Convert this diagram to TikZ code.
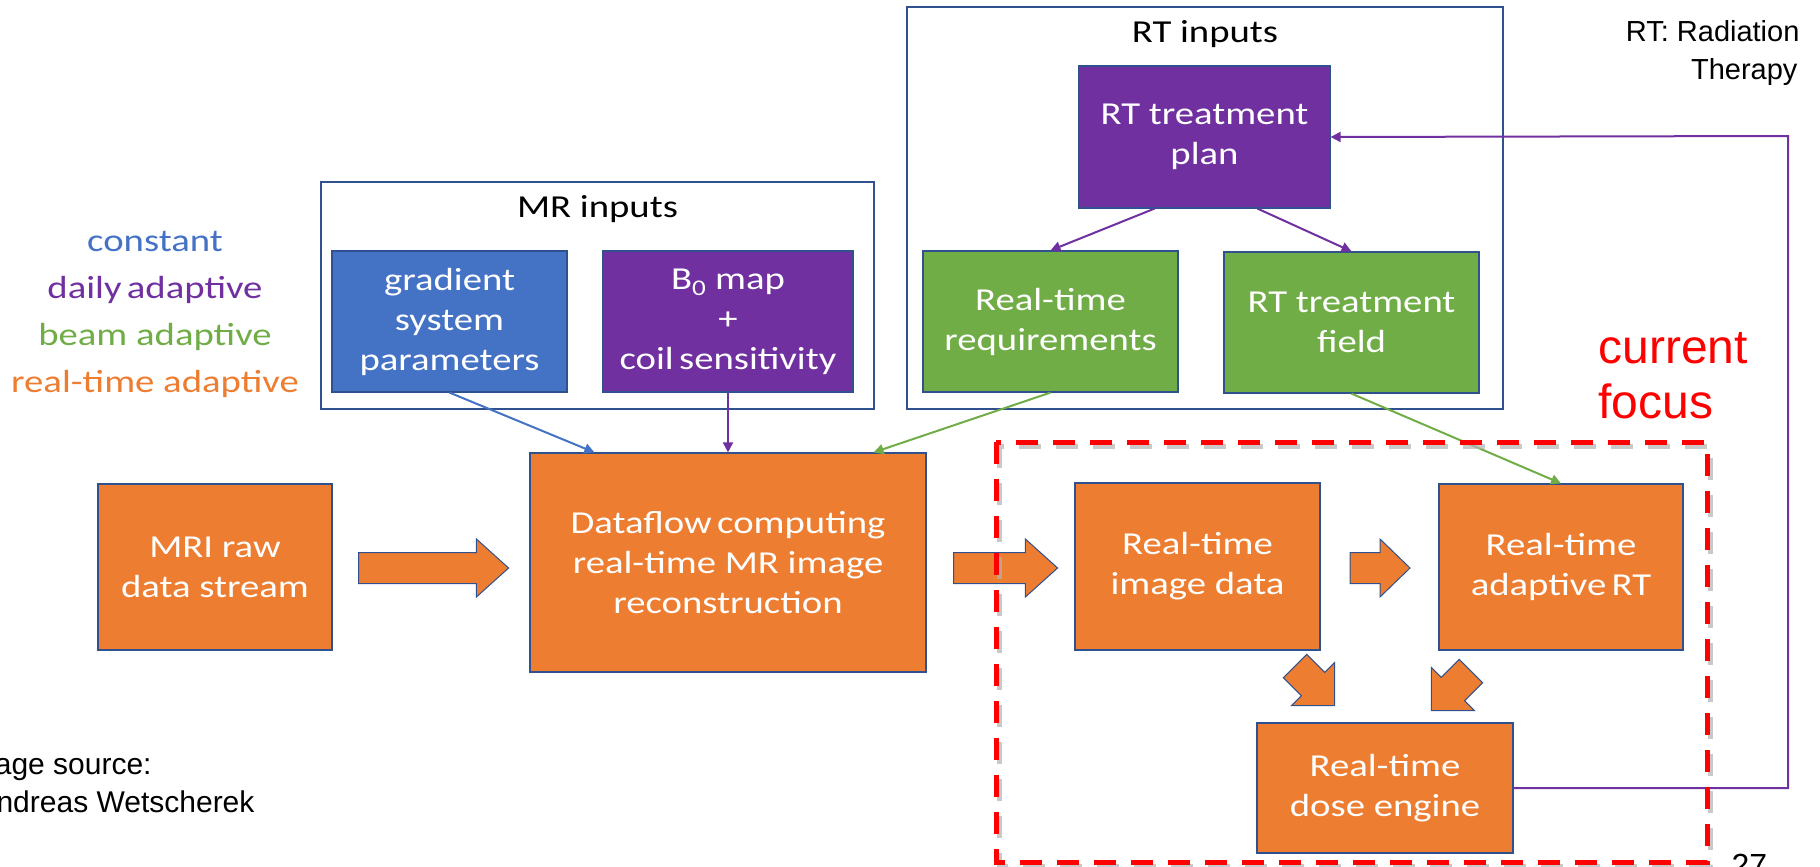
\documentclass[tikz,border=0pt]{standalone}
\usepackage{fontspec}
\setmainfont{Liberation Sans}
\newfontfamily\boxfont[FakeStretch=1.21]{Carlito}
\usetikzlibrary{arrows.meta,shapes.arrows,positioning}

\definecolor{msblue}{HTML}{4472C4}
\definecolor{mspurple}{HTML}{7030A0}
\definecolor{msgreen}{HTML}{70AD47}
\definecolor{msorange}{HTML}{ED7D31}
\definecolor{msedge}{HTML}{2F528F}
\definecolor{focusred}{HTML}{FF0000}

\tikzset{
  block/.style={draw=msedge, line width=1.2pt, inner sep=0pt, align=center,
    text=white, font=\boxfont\fontsize{32}{40}\selectfont},
  inframe/.style={draw=msedge, line width=1.3pt, inner sep=0pt},
  frametitle/.style={anchor=base, font=\boxfont\fontsize{32}{40}\selectfont},
  legend/.style={anchor=base, font=\boxfont\fontsize{32}{40}\selectfont},
  fatarrow/.style={single arrow, draw=msedge, fill=msorange, line width=1pt,
    inner xsep=0pt, inner ysep=15pt, single arrow head extend=13.5pt,
    single arrow tip angle=84},
  link/.style={line width=2pt, -{Triangle[length=10pt,width=10pt]}},
  note/.style={font=\fontsize{29}{35}\selectfont},
}

\begin{document}
\begin{tikzpicture}[x=1pt, y=-1pt]
  \useasboundingbox (0,0) rectangle (1820,867);

  % input frames
  \node[inframe, minimum width=553pt, minimum height=227pt] (mrframe) at (597.5,295.5) {};
  \node[inframe, minimum width=596pt, minimum height=402pt] (rtframe) at (1205,208) {};
  \node[frametitle] (mrtitle) at (597.5,217) {MR inputs};
  \node[frametitle] (rttitle) at (1205,43) {RT inputs};

  % legend
  \foreach \txt/\col/\yy [count=\i] in {constant/msblue/251,
      {daily\,adaptive}/mspurple/298, {beam adaptive}/msgreen/345,
      {real-time adaptive}/msorange/392}
    \node[legend, text=\col] (leg\i) at (155,\yy) {\txt};

  % boxes
  \node[block, fill=msblue, minimum width=235pt, minimum height=141pt] (grad)
    at (449.5,321.5) {gradient\\system\\parameters};
  \node[block, fill=mspurple, minimum width=250pt, minimum height=141pt] (b0)
    at (728,321.5) {B\textsubscript{0} map\\+\\coil\,sensitivity};
  \node[block, fill=mspurple, minimum width=251pt, minimum height=142pt] (plan)
    at (1204.5,137) {RT treatment\\plan};
  \node[block, fill=msgreen, minimum width=255pt, minimum height=141pt] (req)
    at (1050.5,321.5) {Real-time\\requirements};
  \node[block, fill=msgreen, minimum width=255pt, minimum height=141pt] (field)
    at (1351.5,322.5) {RT treatment\\field};
  \node[block, fill=msorange, minimum width=234pt, minimum height=166pt] (mri)
    at (215,567) {MRI raw\\data stream};
  \node[block, fill=msorange, minimum width=396pt, minimum height=219pt] (flow)
    at (728,562.5) {Dataflow\,computing\\real-time MR image\\reconstruction};
  \node[block, fill=msorange, minimum width=245pt, minimum height=167pt] (img)
    at (1197.5,566.5) {Real-time\\image data};
  \node[block, fill=msorange, minimum width=244pt, minimum height=166pt] (adapt)
    at (1561,567) {Real-time\\adaptive\,RT};
  \node[block, fill=msorange, minimum width=256pt, minimum height=130pt] (dose)
    at (1385,788) {Real-time\\dose engine};

  % thin connectors
  \draw[link, msblue] (grad.south) -- ([xshift=65pt]flow.north west);
  \draw[link, mspurple] (b0.south) -- (flow.north);
  \draw[link, msgreen] (req.south) -- ([xshift=-53pt]flow.north east);
  \draw[link, mspurple] ([xshift=-50pt]plan.south) -- (req.north);
  \draw[link, mspurple] ([xshift=53pt]plan.south) -- (field.north);
  \draw[link, msgreen] (field.south) -- (adapt.north);
  \coordinate (turn) at (1788,136);
  \draw[link, mspurple] (dose.east) -| (turn) -- (plan.east);

  % block arrows
  \node[fatarrow, minimum height=150pt] (push1) at (425,568) {};
  \node[fatarrow, minimum height=104pt] (push2) at (997,568) {};
  \node[fatarrow, minimum height=60pt, single arrow tip angle=88] (push3) at (1372,568) {};
  \node[fatarrow, minimum height=56pt, inner ysep=16pt, single arrow head extend=14pt,
    single arrow tip angle=90, rotate=-45] (push4) at (1309,680) {};
  \node[fatarrow, minimum height=56pt, inner ysep=16pt, single arrow head extend=14pt,
    single arrow tip angle=90, rotate=-135] (push5) at (1457,685) {};

  % current focus frame
  \draw[black!30, opacity=0.7, line width=5pt, dash pattern=on 22pt off 15pt,
    shift={(3,4)}] (996,442) rectangle (1707,862);
  \draw[focusred, line width=5pt, dash pattern=on 22pt off 15pt]
    (996,442) rectangle (1707,862);

  % notes
  \node[note, anchor=base east] (rtnote1) at (1803,42) {RT: Radiation};
  \node[note, anchor=base east] (rtnote2) at (1801,80) {Therapy};
  \node[anchor=base west, text=focusred, font=\fontsize{48}{55}\selectfont] (focus1)
    at (1595,363) {current};
  \node[anchor=base west, text=focusred, font=\fontsize{48}{55}\selectfont] (focus2)
    at (1595,418) {focus};
  \node[note, anchor=base west, font=\fontsize{30}{38}\selectfont] (src1)
    at (-42,774) {Image source:};
  \node[note, anchor=base west, font=\fontsize{30}{38}\selectfont] (src2)
    at (-27,812) {Andreas Wetscherek};
  \node[anchor=base west, font=\fontsize{32}{38}\selectfont] (pageno) at (1728,876) {27};
\end{tikzpicture}
\end{document}
